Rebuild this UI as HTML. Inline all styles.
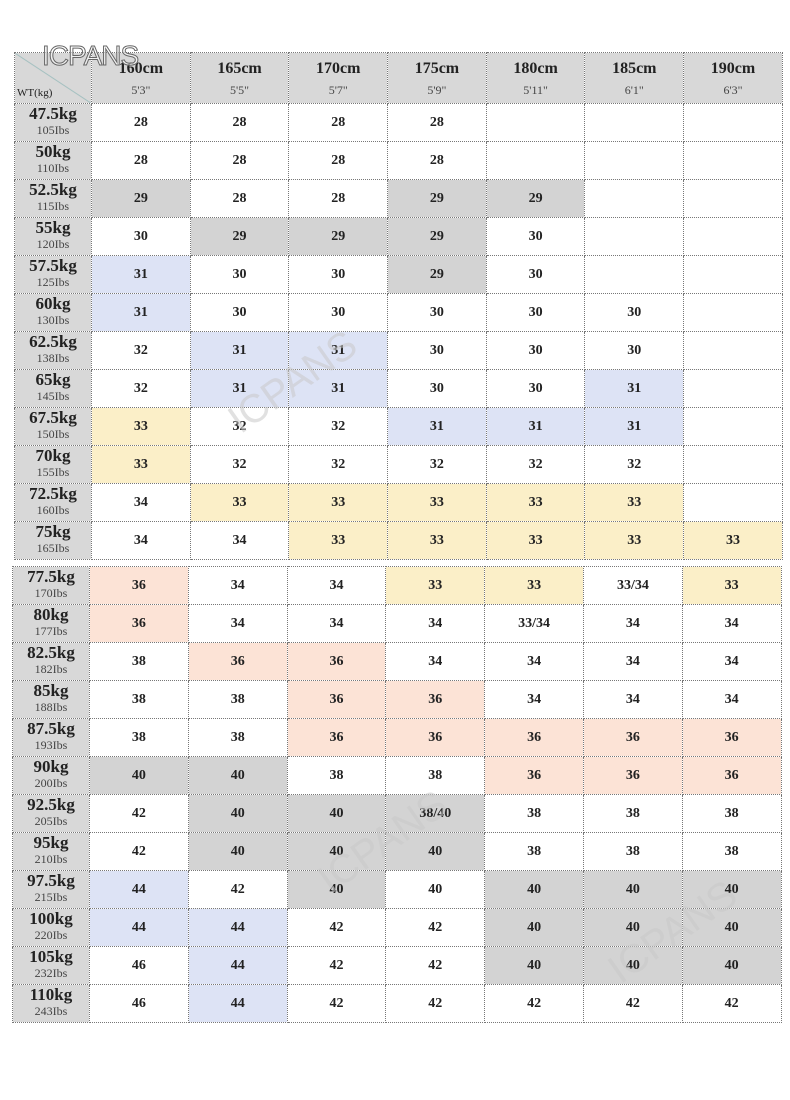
<!DOCTYPE html><html><head><meta charset="utf-8"><style>
body{margin:0;width:790px;height:1100px;background:#fff;position:relative;overflow:hidden;font-family:"Liberation Serif","Noto Serif CJK SC",serif}
table{position:absolute;border-collapse:collapse;table-layout:fixed}
tr{height:38px}
td{border:1px dotted #777;text-align:center;vertical-align:middle;font-weight:bold;font-size:14px;line-height:16px;color:#222;padding:0;overflow:hidden}
td.l{background:#d8d8d8;line-height:17px;font-size:17px;vertical-align:top;padding:1px 0 0 0}
td.l span{display:block;font-size:12px;line-height:13px;font-weight:normal;color:#444;margin-top:2px}
tr.h{height:51px}
th{border:1px dotted #777;background:#d8d8d8;font-size:16px;line-height:18px;padding:0;color:#222;overflow:hidden}
th span{display:block;font-size:12px;line-height:14px;font-weight:normal;color:#444;margin-top:5px}
.g{background:#d3d3d3}.b{background:#dde3f5}.y{background:#fbefc8}.p{background:#fce3d6}
.wm{position:absolute;color:rgba(200,200,200,.55);font-family:"Liberation Sans",sans-serif;font-size:40px;transform:rotate(-35deg)}
</style></head><body>
<table style="left:14px;top:52px;width:768px">
<colgroup><col style="width:77px"><col span="7" style="width:98.7px"></colgroup>
<tr class="h"><th style="background:linear-gradient(to top right,#d8d8d8 49%,#9bb 50%,#d8d8d8 51%);text-align:left;vertical-align:bottom;font-size:11px;line-height:13px;font-weight:normal;padding:0 0 3px 2px">WT(kg)</th><th>160cm<span>5'3"</span></th><th>165cm<span>5'5"</span></th><th>170cm<span>5'7"</span></th><th>175cm<span>5'9"</span></th><th>180cm<span>5'11"</span></th><th>185cm<span>6'1"</span></th><th>190cm<span>6'3"</span></th></tr>
<tr><td class="l">47.5kg<span>105Ibs</span></td><td>28</td><td>28</td><td>28</td><td>28</td><td></td><td></td><td></td></tr>
<tr><td class="l">50kg<span>110Ibs</span></td><td>28</td><td>28</td><td>28</td><td>28</td><td></td><td></td><td></td></tr>
<tr><td class="l">52.5kg<span>115Ibs</span></td><td class="g">29</td><td>28</td><td>28</td><td class="g">29</td><td class="g">29</td><td></td><td></td></tr>
<tr><td class="l">55kg<span>120Ibs</span></td><td>30</td><td class="g">29</td><td class="g">29</td><td class="g">29</td><td>30</td><td></td><td></td></tr>
<tr><td class="l">57.5kg<span>125Ibs</span></td><td class="b">31</td><td>30</td><td>30</td><td class="g">29</td><td>30</td><td></td><td></td></tr>
<tr><td class="l">60kg<span>130Ibs</span></td><td class="b">31</td><td>30</td><td>30</td><td>30</td><td>30</td><td>30</td><td></td></tr>
<tr><td class="l">62.5kg<span>138Ibs</span></td><td>32</td><td class="b">31</td><td class="b">31</td><td>30</td><td>30</td><td>30</td><td></td></tr>
<tr><td class="l">65kg<span>145Ibs</span></td><td>32</td><td class="b">31</td><td class="b">31</td><td>30</td><td>30</td><td class="b">31</td><td></td></tr>
<tr><td class="l">67.5kg<span>150Ibs</span></td><td class="y">33</td><td>32</td><td>32</td><td class="b">31</td><td class="b">31</td><td class="b">31</td><td></td></tr>
<tr><td class="l">70kg<span>155Ibs</span></td><td class="y">33</td><td>32</td><td>32</td><td>32</td><td>32</td><td>32</td><td></td></tr>
<tr><td class="l">72.5kg<span>160Ibs</span></td><td>34</td><td class="y">33</td><td class="y">33</td><td class="y">33</td><td class="y">33</td><td class="y">33</td><td></td></tr>
<tr><td class="l">75kg<span>165Ibs</span></td><td>34</td><td>34</td><td class="y">33</td><td class="y">33</td><td class="y">33</td><td class="y">33</td><td class="y">33</td></tr>
</table>
<table style="left:12px;top:566px;width:769px">
<colgroup><col style="width:77px"><col span="7" style="width:98.8px"></colgroup>
<tr><td class="l">77.5kg<span>170Ibs</span></td><td class="p">36</td><td>34</td><td>34</td><td class="y">33</td><td class="y">33</td><td>33/34</td><td class="y">33</td></tr>
<tr><td class="l">80kg<span>177Ibs</span></td><td class="p">36</td><td>34</td><td>34</td><td>34</td><td>33/34</td><td>34</td><td>34</td></tr>
<tr><td class="l">82.5kg<span>182Ibs</span></td><td>38</td><td class="p">36</td><td class="p">36</td><td>34</td><td>34</td><td>34</td><td>34</td></tr>
<tr><td class="l">85kg<span>188Ibs</span></td><td>38</td><td>38</td><td class="p">36</td><td class="p">36</td><td>34</td><td>34</td><td>34</td></tr>
<tr><td class="l">87.5kg<span>193Ibs</span></td><td>38</td><td>38</td><td class="p">36</td><td class="p">36</td><td class="p">36</td><td class="p">36</td><td class="p">36</td></tr>
<tr><td class="l">90kg<span>200Ibs</span></td><td class="g">40</td><td class="g">40</td><td>38</td><td>38</td><td class="p">36</td><td class="p">36</td><td class="p">36</td></tr>
<tr><td class="l">92.5kg<span>205Ibs</span></td><td>42</td><td class="g">40</td><td class="g">40</td><td class="g">38/40</td><td>38</td><td>38</td><td>38</td></tr>
<tr><td class="l">95kg<span>210Ibs</span></td><td>42</td><td class="g">40</td><td class="g">40</td><td class="g">40</td><td>38</td><td>38</td><td>38</td></tr>
<tr><td class="l">97.5kg<span>215Ibs</span></td><td class="b">44</td><td>42</td><td class="g">40</td><td>40</td><td class="g">40</td><td class="g">40</td><td class="g">40</td></tr>
<tr><td class="l">100kg<span>220Ibs</span></td><td class="b">44</td><td class="b">44</td><td>42</td><td>42</td><td class="g">40</td><td class="g">40</td><td class="g">40</td></tr>
<tr><td class="l">105kg<span>232Ibs</span></td><td>46</td><td class="b">44</td><td>42</td><td>42</td><td class="g">40</td><td class="g">40</td><td class="g">40</td></tr>
<tr><td class="l">110kg<span>243Ibs</span></td><td>46</td><td class="b">44</td><td>42</td><td>42</td><td>42</td><td>42</td><td>42</td></tr>
</table>
<div class="wm" style="left:220px;top:360px">ICPANS</div>
<div class="wm" style="left:310px;top:820px">ICPANS</div>
<div class="wm" style="left:600px;top:910px">ICPANS</div>
<div style="position:absolute;left:42px;top:40px;font-family:'Liberation Sans',sans-serif;font-size:28px;color:rgba(255,255,255,.6);-webkit-text-stroke:1px #666;letter-spacing:-1px">ICPANS</div>
</body></html>
